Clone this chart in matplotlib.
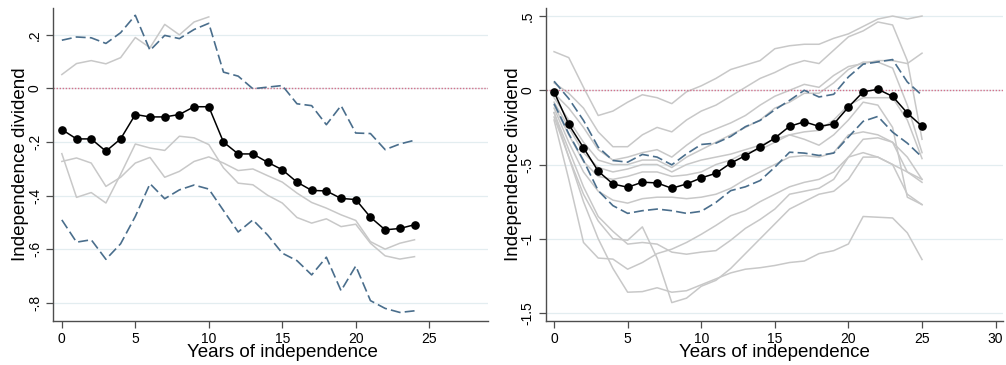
import numpy as np
import matplotlib
matplotlib.use("Agg")
import matplotlib.pyplot as plt

plt.rcParams['font.family'] = ['Liberation Sans', 'DejaVu Sans']

# left panel: years 0-24
years_l = list(range(25))
mean_l = [-0.153, -0.188, -0.188, -0.234, -0.188, -0.097, -0.106, -0.106, -0.097, -0.068, -0.068,
          -0.200, -0.244, -0.244, -0.275, -0.303, -0.349, -0.380, -0.382, -0.410, -0.414,
          -0.480, -0.527, -0.522, -0.508]
upper_l = [0.180, 0.192, 0.189, 0.168, 0.208, 0.273, 0.142, 0.198, 0.186, 0.220, 0.243,
           0.061, 0.046, -0.001, 0.005, 0.011, -0.057, -0.064, -0.135, -0.064, -0.166,
           -0.168, -0.228, -0.207, -0.193]
lower_l = [-0.490, -0.573, -0.564, -0.637, -0.579, -0.477, -0.355, -0.411, -0.378, -0.360, -0.375,
           -0.455, -0.535, -0.490, -0.546, -0.614, -0.642, -0.695, -0.629, -0.754, -0.662,
           -0.791, -0.820, -0.835, -0.829]
grey_l = [
    [0.052, 0.093, 0.104, 0.092, 0.115, 0.190, 0.152, 0.239, 0.200, 0.248, 0.267],
    [-0.272, -0.259, -0.278, -0.365, -0.331, -0.278, -0.257, -0.331, -0.309, -0.272, -0.255,
     -0.278, -0.306, -0.300, -0.325, -0.349, -0.390, -0.425, -0.446, -0.471, -0.492,
     -0.571, -0.599, -0.577, -0.564],
    [-0.243, -0.406, -0.388, -0.427, -0.320, -0.207, -0.222, -0.231, -0.178, -0.184, -0.209,
     -0.296, -0.353, -0.359, -0.398, -0.427, -0.481, -0.502, -0.486, -0.515, -0.506,
     -0.577, -0.624, -0.636, -0.627],
]

# right panel: years 0-25
years_r = list(range(26))
mean_r = [-0.011, -0.230, -0.387, -0.545, -0.631, -0.653, -0.619, -0.624, -0.660, -0.631, -0.590,
          -0.559, -0.491, -0.440, -0.383, -0.322, -0.243, -0.212, -0.243, -0.227, -0.113,
          -0.011, 0.007, -0.041, -0.153, -0.243]
upper_r = [0.061, -0.056, -0.203, -0.383, -0.473, -0.484, -0.432, -0.450, -0.502, -0.428, -0.365,
           -0.356, -0.311, -0.245, -0.203, -0.131, -0.068, 0.000, -0.045, -0.027, 0.090,
           0.176, 0.191, 0.207, 0.056, -0.034]
lower_r = [-0.090, -0.293, -0.473, -0.676, -0.777, -0.829, -0.811, -0.800, -0.811, -0.829, -0.815,
           -0.755, -0.676, -0.650, -0.608, -0.518, -0.417, -0.423, -0.439, -0.423, -0.315,
           -0.209, -0.176, -0.282, -0.356, -0.450]
grey_r = [
    [0.26, 0.22, 0.02, -0.17, -0.14, -0.08, -0.03, -0.05, -0.09, -0.01, 0.03, 0.08, 0.14,
     0.17, 0.20, 0.28, 0.30, 0.31, 0.31, 0.35, 0.38, 0.43, 0.48, 0.50, 0.48, 0.50],
    [0.05, -0.02, -0.12, -0.28, -0.38, -0.38, -0.30, -0.25, -0.28, -0.20, -0.14, -0.10, -0.04,
     0.02, 0.08, 0.12, 0.17, 0.20, 0.18, 0.27, 0.36, 0.40, 0.46, 0.44, 0.20, -0.33],
    [-0.02, -0.12, -0.25, -0.40, -0.47, -0.45, -0.42, -0.40, -0.45, -0.37, -0.30, -0.26, -0.22,
     -0.17, -0.10, -0.04, 0.00, 0.04, 0.02, 0.10, 0.16, 0.18, 0.20, 0.20, 0.18, 0.25],
    [-0.05, -0.20, -0.35, -0.47, -0.50, -0.50, -0.47, -0.47, -0.52, -0.45, -0.40, -0.35, -0.30,
     -0.25, -0.20, -0.12, -0.08, -0.02, -0.02, 0.05, 0.14, 0.19, 0.19, 0.15, -0.10, -0.42],
    [-0.08, -0.25, -0.42, -0.52, -0.55, -0.53, -0.50, -0.50, -0.55, -0.50, -0.47, -0.45, -0.43,
     -0.40, -0.37, -0.33, -0.30, -0.28, -0.27, -0.20, -0.10, -0.05, -0.05, -0.05, -0.20, -0.46],
    [-0.10, -0.30, -0.48, -0.58, -0.60, -0.58, -0.55, -0.55, -0.58, -0.57, -0.55, -0.50, -0.47,
     -0.42, -0.40, -0.35, -0.30, -0.33, -0.37, -0.30, -0.20, -0.08, -0.10, -0.25, -0.72, -0.77],
    [-0.12, -0.35, -0.55, -0.68, -0.74, -0.76, -0.73, -0.72, -0.72, -0.73, -0.72, -0.70, -0.66,
     -0.60, -0.55, -0.50, -0.45, -0.44, -0.45, -0.42, -0.30, -0.28, -0.30, -0.35, -0.45, -0.60],
    [-0.15, -0.40, -0.65, -0.85, -0.95, -1.036, -1.025, -1.036, -1.09, -1.104, -1.09, -1.08, -1.01,
     -0.93, -0.87, -0.80, -0.70, -0.68, -0.66, -0.60, -0.45, -0.33, -0.32, -0.35, -0.55, -0.62],
    [-0.20, -0.60, -1.025, -1.13, -1.137, -1.205, -1.16, -1.10, -1.07, -1.025, -0.97, -0.91, -0.845,
     -0.81, -0.75, -0.70, -0.65, -0.62, -0.60, -0.55, -0.45, -0.42, -0.45, -0.50, -0.55, -0.60],
    [-0.18, -0.45, -0.70, -0.88, -1.00, -1.01, -0.92, -1.13, -1.43, -1.40, -1.32, -1.28, -1.20,
     -1.10, -1.00, -0.90, -0.80, -0.75, -0.70, -0.68, -0.60, -0.45, -0.45, -0.50, -0.70, -0.77],
    [-0.15, -0.45, -0.75, -1.00, -1.20, -1.36, -1.356, -1.33, -1.36, -1.35, -1.31, -1.27, -1.23,
     -1.205, -1.195, -1.18, -1.16, -1.15, -1.10, -1.08, -1.035, -0.85, -0.855, -0.86, -0.96, -1.14],
]

yticks_l = [0.2, 0, -0.2, -0.4, -0.6, -0.8]
ylabels_l = ['.2', '0', '-.2', '-.4', '-.6', '-.8']
yticks_r = [0.5, 0, -0.5, -1, -1.5]
ylabels_r = ['.5', '0', '-.5', '-1', '-1.5']

grey = '#c8c8c8'
navy = '#4a6e8c'
axcol = '#4d4d4d'


def draw_panel(ax, x, mean, up, lo, greys, yticks, ylabels, xticks, xlim, ylim, xlab_pos=0.5):
    for t in yticks:
        ax.axhline(t, color='#e3edf0', lw=0.9, zorder=0)
    for g in greys:
        ax.plot(x[:len(g)], g, color=grey, lw=1.1, zorder=1)
    ax.axhline(0, color='#d4728a', lw=1.0, ls=(0, (1, 1.2)), zorder=2)
    ax.plot(x, up, color=navy, lw=1.2, ls=(0, (6, 2.5)), zorder=3)
    ax.plot(x, lo, color=navy, lw=1.2, ls=(0, (6, 2.5)), zorder=3)
    ax.plot(x, mean, color='black', lw=1.1, marker='o', ms=5.2, zorder=4)
    ax.set_xlim(*xlim)
    ax.set_ylim(*ylim)
    ax.set_xticks(xticks)
    ax.set_yticks(yticks)
    ax.set_yticklabels(ylabels, rotation=90, va='center')
    ax.tick_params(axis='both', direction='out', length=5, width=0.9, color=axcol,
                   labelsize=10, labelcolor='black', pad=3)
    for s in ['top', 'right']:
        ax.spines[s].set_visible(False)
    for s in ['left', 'bottom']:
        ax.spines[s].set_color(axcol)
        ax.spines[s].set_linewidth(1.0)
    ax.set_xlabel('Years of independence', fontsize=13.5, labelpad=-1)
    ax.xaxis.set_label_coords(xlab_pos, -0.075)
    ax.set_ylabel('Independence dividend', fontsize=13.5, labelpad=-1)


fig = plt.figure(figsize=(10.06, 3.65), dpi=100)
ax1 = fig.add_axes([0.0527, 0.1205, 0.4324, 0.8575])
ax2 = fig.add_axes([0.5427, 0.1205, 0.4543, 0.8575])

draw_panel(ax1, years_l, mean_l, upper_l, lower_l, grey_l, yticks_l, ylabels_l,
           [0, 5, 10, 15, 20, 25], (-0.6, 29.0), (-0.867, 0.30), xlab_pos=0.527)
draw_panel(ax2, years_r, mean_r, upper_r, lower_r, grey_r, yticks_r, ylabels_r,
           [0, 5, 10, 15, 20, 25, 30], (-0.55, 30.5), (-1.554, 0.554))

fig.savefig('out.png', dpi=100)
